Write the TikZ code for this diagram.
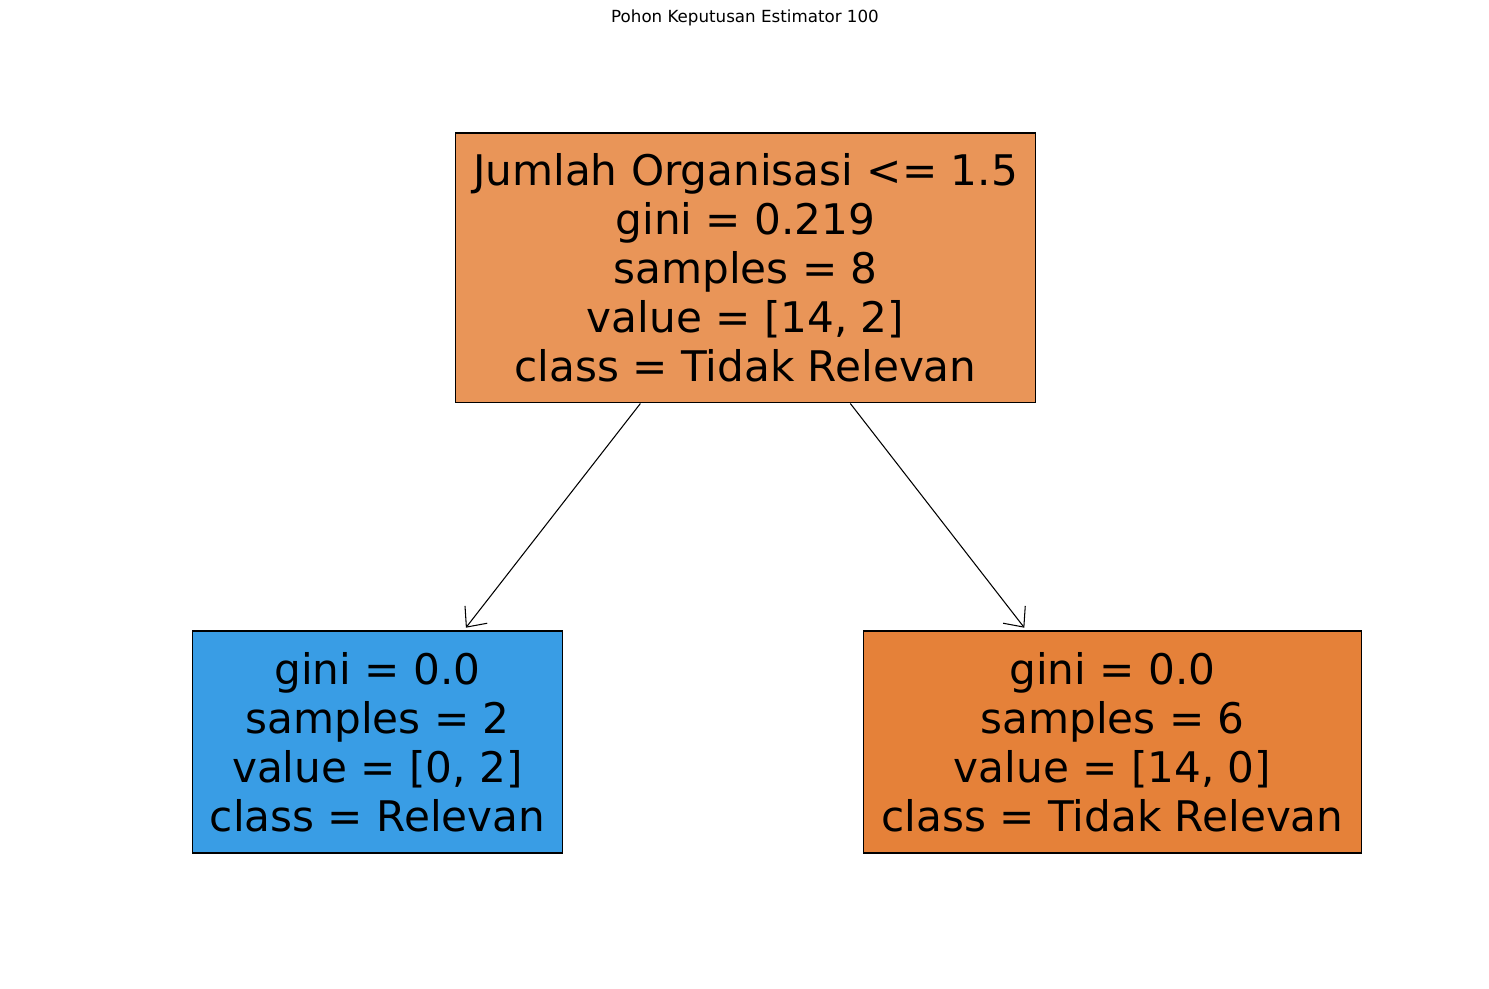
\documentclass[tikz,border=0pt]{standalone}
\usepackage{fontspec}
\setmainfont{DejaVu Sans}
\usetikzlibrary{arrows.meta}
\usetikzlibrary{positioning}
\definecolor{rootorange}{HTML}{E99558}
\definecolor{leafblue}{HTML}{399DE5}
\definecolor{leaforange}{HTML}{E58139}
\tikzset{every text node part/.style={align=center}}
\tikzstyle{treenode} = [draw=black, line width=0.6pt, inner sep=0pt, font={\fontsize{24}{27.9}\selectfont}]
\tikzstyle{edge} = [draw, line width=0.6pt, -{Straight Barb[length=9pt, width=16pt, line width=0.6pt]}, shorten >=2pt]

\begin{document}
\begin{tikzpicture}[x=0.02cm, y=-0.02cm]

  % Canvas
  \useasboundingbox (0,0) rectangle (1489,989);

  % Title
  \node[font={\fontsize{9.5}{11}\selectfont}] (title) at (745,18) {Pohon Keputusan Estimator 100};

  % Root split
  \node[treenode, fill=rootorange, minimum width=11.62cm, minimum height=5.4cm] (root) at (745.5,268)
    {Jumlah Organisasi <= 1.5\\gini = 0.219\\samples = 8\\value = [14, 2]\\class = Tidak Relevan};

  % Leaves
  \node[treenode, fill=leafblue, minimum width=7.42cm, minimum height=4.44cm] (left) at (377.5,742)
    {gini = 0.0\\samples = 2\\value = [0, 2]\\class = Relevan};
  \node[treenode, fill=leaforange, minimum width=9.98cm, minimum height=4.44cm] (right) at (1112.5,742)
    {gini = 0.0\\samples = 6\\value = [14, 0]\\class = Tidak Relevan};

  % Draw edges
  \draw[edge] (root) -- (left);
  \draw[edge] (root) -- (right);

\end{tikzpicture}
\end{document}
